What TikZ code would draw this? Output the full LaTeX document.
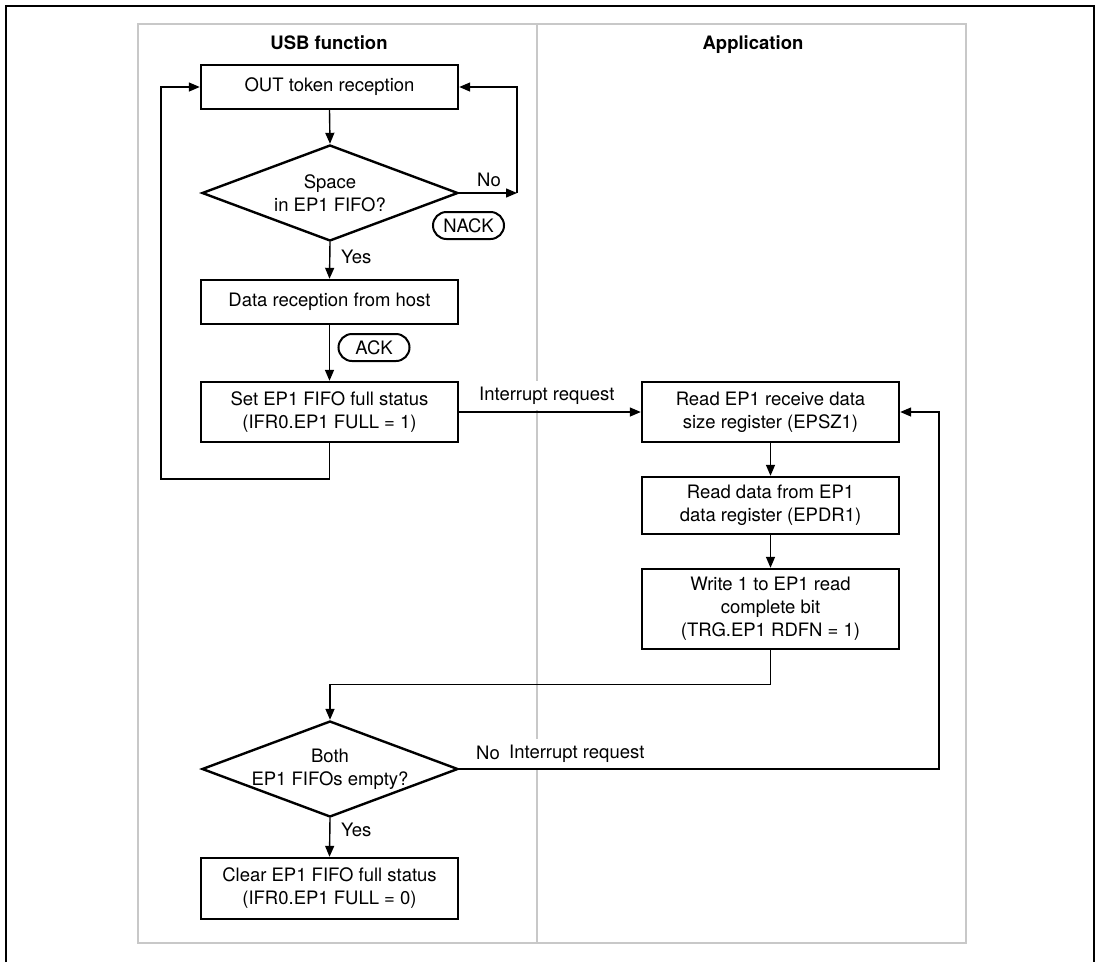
\documentclass[tikz,border=0pt]{standalone}
\usepackage{fontspec}
\setmainfont{TeX Gyre Heros}
\usetikzlibrary{arrows.meta,shapes.geometric,shapes.misc}
\definecolor{laneGray}{RGB}{200,200,200}
\begin{document}
\begin{tikzpicture}[x=1pt,y=-1pt,
  txt/.style={font=\fontsize{18.5}{23}\selectfont, inner sep=0pt, align=center},
  hdr/.style={font=\fontsize{18.5}{23}\selectfont\bfseries, inner sep=0pt, anchor=base},
  lbl/.style={font=\fontsize{18.5}{23}\selectfont, inner sep=0pt, anchor=base west},
  wlbl/.style={lbl, fill=white, inner xsep=2pt, inner ysep=6pt},
  box/.style={draw, line width=2.4pt, align=center, inner sep=0pt,
    font=\fontsize{18.5}{23}\selectfont, minimum width=257pt},
  dia/.style={draw, diamond, line width=2.4pt, inner sep=0pt,
    minimum width=256pt, minimum height=96pt},
  pill/.style={draw, rounded rectangle, line width=2pt, inner sep=0pt,
    font=\fontsize{18.5}{23}\selectfont, minimum width=71pt, minimum height=27pt},
  conn/.style={line width=1.4pt},
  arr/.style={conn, -{Triangle[length=11pt,width=9pt]}},
  lane/.style={draw=laneGray, line width=2.5pt}]
\useasboundingbox (0,0) rectangle (1101,962);
% outer frame
\draw[line width=2pt] (5.5,962) -- (5.5,5.5) -- (1094,5.5) -- (1094,962);
% swimlanes
\draw[lane] (138,24) rectangle (966,943);
\draw[lane] (537,24) -- (537,943);
\node[hdr] (h1) at (329,49) {USB function};
\node[hdr] (h2) at (753,49) {Application};
% nodes
\node[box, minimum height=44pt] (out) at (329.5,87) {OUT token reception};
\node[dia] (d1) at (330,193) {};
\node[txt] (d1t) at (330,193) {Space\\in EP1 FIFO?};
\node[pill] (nack) at (468.5,225.5) {NACK};
\node[box, minimum height=44pt] (data) at (329.5,302) {Data reception from host};
\node[pill] (ack) at (374,347.5) {ACK};
\node[box, minimum height=60pt] (set) at (329.5,412) {Set EP1 FIFO full status\\(IFR0.EP1 FULL = 1)};
\node[box, minimum height=60pt] (read1) at (770.5,412) {Read EP1 receive data\\size register (EPSZ1)};
\node[box, minimum height=57pt] (read2) at (770.5,505.5) {Read data from EP1\\data register (EPDR1)};
\node[box, minimum height=80pt] (write) at (770.5,609) {Write 1 to EP1 read\\complete bit\\(TRG.EP1 RDFN = 1)};
\node[dia] (d2) at (330,769) {};
\node[txt] (d2t) at (330,769) {Both\\EP1 FIFOs empty?};
\node[box, minimum height=61pt] (clear) at (329.5,888.5) {Clear EP1 FIFO full status\\(IFR0.EP1 FULL = 0)};
% labels
\node[lbl] (no1) at (477,186) {No};
\node[lbl] (yes1) at (341,263) {Yes};
\node[wlbl] (irq1) at (477,400) {Interrupt request};
\node[lbl] (no2) at (476,759) {No};
\node[wlbl] (irq2) at (507,758) {Interrupt request};
\node[lbl] (yes2) at (341,836) {Yes};
% connectors
\coordinate (nr) at (517,193);
\coordinate (lb) at (161,479);
\coordinate (rr) at (939,769);
\draw[arr] (out.south) -- (d1.north);
\draw[arr] (d1.east) -- (nr);
\draw[arr] (nr) |- (out.east);
\draw[arr] (d1.south) -- (data.north);
\draw[arr] (data.south) -- (set.north);
\draw[arr] (set.south) |- (lb) |- (out.west);
\draw[arr] (set.east) -- (read1.west);
\draw[arr] (read1.south) -- (read2.north);
\draw[arr] (read2.south) -- (write.north);
\draw[arr] (write.south) -- ++(0,34) -| (d2.north);
\draw[arr] (d2.east) -- (rr) |- (read1.east);
\draw[arr] (d2.south) -- (clear.north);
\end{tikzpicture}
\end{document}
